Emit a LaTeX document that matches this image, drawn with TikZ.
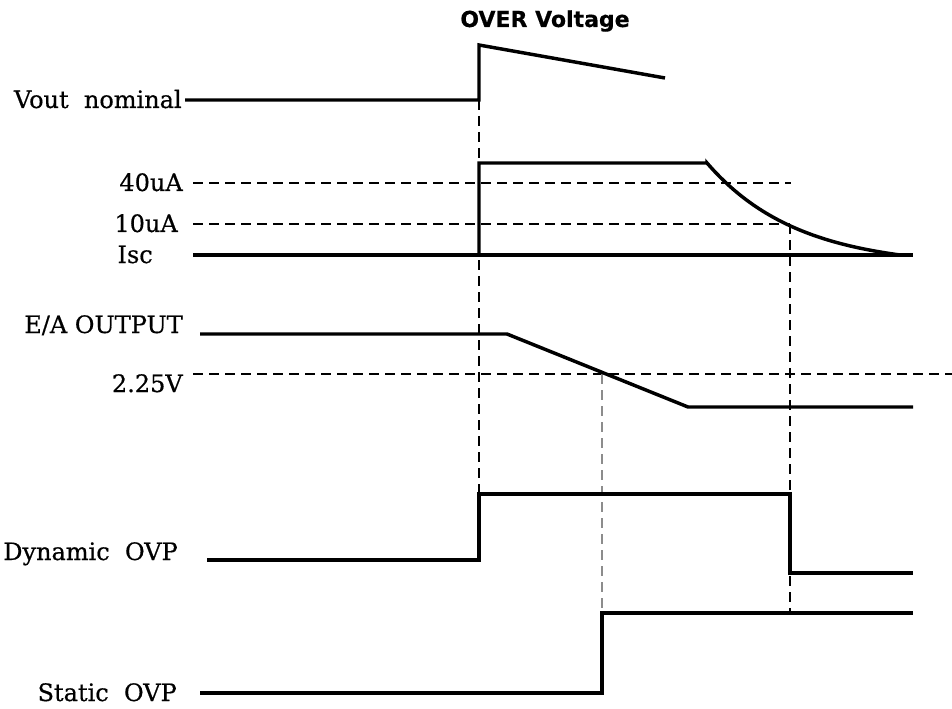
\documentclass[tikz,border=0pt]{standalone}
\usepackage{fontspec}
\setmainfont{DejaVu Serif}
\newfontfamily\lblfont[FakeBold=0.5]{DejaVu Serif}
\newfontfamily\titlefont[FakeBold=0.4]{DejaVu Sans}
\begin{document}
\begin{tikzpicture}[x=0.75pt,y=-0.75pt,
  wave/.style={line width=2.6pt, line join=miter, line cap=butt},
  guide/.style={line width=1.2pt, dash pattern=on 7.5pt off 4.5pt},
  greyguide/.style={guide, draw=black!45},
  lbl/.style={font=\lblfont\fontsize{18}{21}\selectfont, inner sep=0pt, anchor=base east},
]
\useasboundingbox (0,0) rectangle (952,709);

% title
\node[font=\titlefont\bfseries\fontsize{16.5}{19}\selectfont, inner sep=0pt] (title) at (545,21) {OVER Voltage};

% labels
\node[lbl] (lvout) at (182,108) {Vout\ \ nominal};
\node[lbl] (l40) at (183,191) {40uA};
\node[lbl] (l10) at (178,232) {10uA};
\node[lbl] (lisc) at (153,263) {Isc};
\node[lbl] (lea) at (183,333) {E/A OUTPUT};
\node[lbl] (l225) at (183,392) {2.25V};
\node[lbl] (ldyn) at (178,560) {Dynamic\ \ OVP};
\node[lbl] (lsta) at (177,701) {Static\ \ OVP};

% key coordinates
\coordinate (vA) at (185,100);
\coordinate (vB) at (479,100);
\coordinate (vC) at (479,45);
\coordinate (vD) at (665,78);

\coordinate (g40a) at (193,183);
\coordinate (g40b) at (791,183);
\coordinate (g10a) at (193,224);
\coordinate (g10b) at (790,224);
\coordinate (iA) at (193,255);
\coordinate (iB) at (913,255);
\coordinate (iC) at (479,255);
\coordinate (iD) at (479,163);
\coordinate (iE) at (707,163);

\coordinate (eA) at (200,334);
\coordinate (eB) at (507,334);
\coordinate (eC) at (688,407);
\coordinate (eD) at (913,407);
\coordinate (g225a) at (193,374);
\coordinate (g225b) at (952,374);

\coordinate (dA) at (207,560);
\coordinate (dB) at (479,560);
\coordinate (dC) at (479,494);
\coordinate (dD) at (790,494);
\coordinate (dE) at (790,573);
\coordinate (dF) at (913,573);

\coordinate (sA) at (200,693);
\coordinate (sB) at (602,693);
\coordinate (sC) at (602,613);
\coordinate (sD) at (913,613);

\coordinate (x1top) at (479,100);
\coordinate (x1bot) at (479,494);
\coordinate (x2top) at (602,374);
\coordinate (x2bot) at (602,613);
\coordinate (x3top) at (790,224);
\coordinate (x3bot) at (790,613);

% guides
\draw[guide] (g40a) -- (g40b);
\draw[guide] (g10a) -- (g10b);
\draw[guide] (g225a) -- (g225b);
\draw[guide] (x1top) -- (x1bot);
\draw[greyguide] (x2top) -- (x2bot);
\draw[guide] (x3top) -- (x3bot);

% waveforms
\draw[wave] (vA) -- (vB) -- (vC) -- (vD);
\draw[wave] (iA) -- (iB);
\draw[wave] (iC) -- (iD) -- (iE)
  -- plot[domain=707:900, samples=60, variable=\t] (\t, {255-92*(exp(-(\t-707)/90)-0.117)/0.883});
\draw[wave] (eA) -- (eB) -- (eC) -- (eD);
\draw[wave] (dA) -- (dB) -- (dC) -- (dD) -- (dE) -- (dF);
\draw[wave] (sA) -- (sB) -- (sC) -- (sD);
\end{tikzpicture}
\end{document}
